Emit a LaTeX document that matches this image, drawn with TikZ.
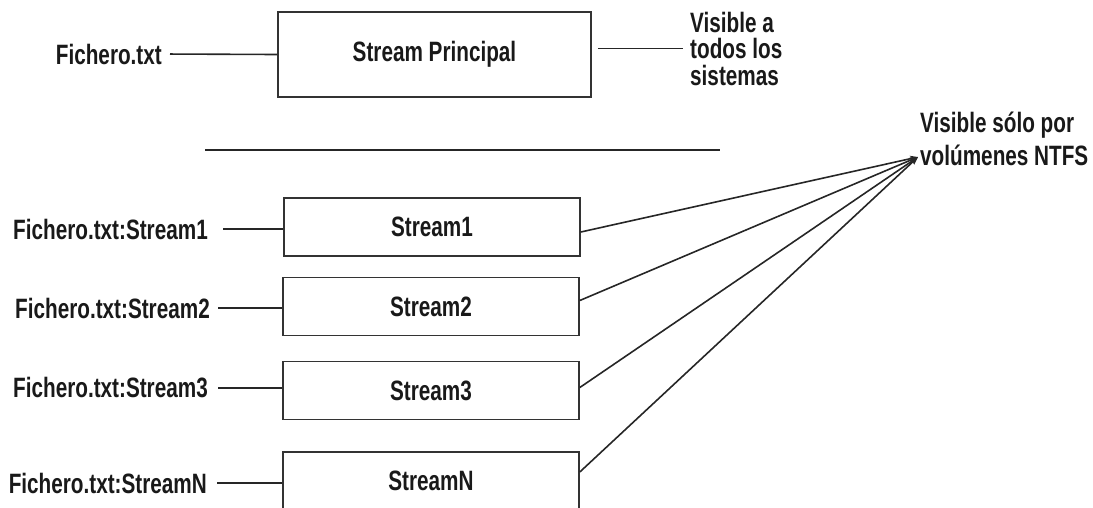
\documentclass[tikz,border=0pt]{standalone}
\usepackage{fontspec}
\newfontfamily\diagfont[FakeStretch=0.74]{Liberation Sans}
\usetikzlibrary{arrows.meta}

\begin{document}
\begin{tikzpicture}
[x=1pt,y=-1pt,%
  every node/.style={font=\diagfont\bfseries\fontsize{28}{26.5}\selectfont,text=black!90},%
  box/.style={rectangle,draw=black!80,line width=1.6pt,inner sep=0pt,minimum width=313pt,minimum height=85pt},%
  sbox/.style={box,minimum width=296pt,minimum height=58pt},%
  lbl/.style={inner sep=0pt},%
  link/.style={draw=black!85,line width=1.6pt}]
\useasboundingbox (0,0) rectangle (1093,507);
% stream principal
\node[box] (main) at (434.5,54.5) {Stream Principal};
\node[lbl,anchor=east] (fich) at (162,54) {Fichero.txt};
\node[lbl,anchor=west,align=left] (todos) at (690,48.5) {Visible a\\todos los\\sistemas};
\draw[link,shorten <=8pt] (fich.east) -- (main.west);
\draw[link,shorten <=6pt,shorten >=7pt] (main.east |- todos.west) -- (todos.west);
% separador
\coordinate (sepl) at (205,150);
\coordinate (sepr) at (720,150);
\draw[link] (sepl) -- (sepr);
% streams alternativos
\node[sbox] (s1) at (432,227) {Stream1};
\node[sbox] (s2) at (431,306.5) {Stream2};
\node[sbox] (s3) at (431,390.5) {Stream3};
\node[sbox] (sn) at (431,481) {StreamN};
\node[lbl,anchor=east] (f1) at (208,229) {Fichero.txt:Stream1};
\node[lbl,anchor=east] (f2) at (210,308) {Fichero.txt:Stream2};
\node[lbl,anchor=east] (f3) at (208,388) {Fichero.txt:Stream3};
\node[lbl,anchor=east] (fn) at (207,483) {Fichero.txt:StreamN};
\draw[link,shorten <=15pt] (f1.east) -- (s1.west |- f1.east);
\draw[link,shorten <=8pt] (f2.east) -- (s2.west |- f2.east);
\draw[link,shorten <=10pt] (f3.east) -- (s3.west |- f3.east);
\draw[link,shorten <=10pt] (fn.east) -- (sn.west |- fn.east);
% solo NTFS
\node[lbl,anchor=west,align=left] (ntfs) at (920,138.5) {Visible sólo por\\[6.5pt]volúmenes NTFS};
\coordinate (tip) at (918,157);
\draw[link,-{Stealth[length=8pt,width=6pt]}] ([yshift=-5pt]s1.east) -- (tip);
\draw[link,-{Stealth[length=8pt,width=6pt]}] ([yshift=6pt]s2.east) -- (tip);
\draw[link,-{Stealth[length=8pt,width=6pt]}] ([yshift=3pt]s3.east) -- (tip);
\draw[link,-{Stealth[length=8pt,width=6pt]}] ([yshift=9pt]sn.east) -- (tip);
\end{tikzpicture}
\end{document}
